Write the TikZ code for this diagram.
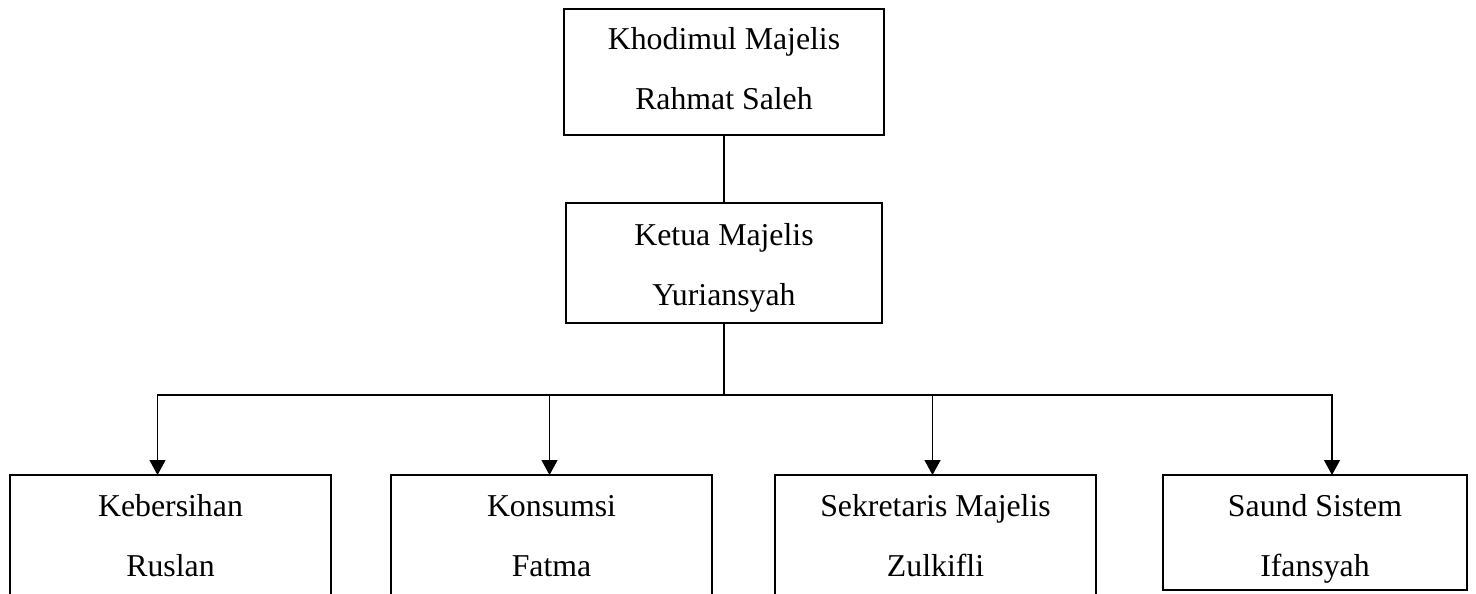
\documentclass[tikz,border=0pt]{standalone}
\usepackage{fontspec}
\setmainfont{Liberation Serif}
\usepackage{tikz}
\usetikzlibrary{arrows.meta,positioning}

\begin{document}
\begin{tikzpicture}[x=1pt, y=-1pt]
\tikzstyle{box}=[draw, line width=2.2pt, shape=rectangle, inner sep=0pt, outer sep=0pt, align=center, font=\fontsize{31.8}{60}\selectfont]
\tikzstyle{head}=[box, minimum width=320pt, text height=101pt, text depth=25pt]
\tikzstyle{unit}=[box, minimum width=321pt, text height=101pt, text depth=80pt]
\tikzstyle{link}=[line width=1.2pt]
\tikzstyle{arrow}=[link, -{Triangle[width=16pt,length=15pt]}]
\useasboundingbox (0,0) rectangle (1476,594);
\clip (0,0) rectangle (1476,594);

\node[head, anchor=north] (khodim) at (724,9) {Khodimul Majelis\\Rahmat Saleh};
\node[head, minimum width=316pt, text height=102pt, text depth=18pt] (ketua) [below=68pt of khodim]{Ketua Majelis\\Yuriansyah};

\node[unit, anchor=north west] (keb) at (10,475) {Kebersihan\\Ruslan};
\node[unit] (kon) [right=60pt of keb.north east, anchor=north west]{Konsumsi\\Fatma};
\node[unit] (sek) [right=63pt of kon.north east, anchor=north west]{Sekretaris Majelis\\Zulkifli};
\node[unit, minimum width=304pt, text depth=14pt] (sau) [right=67pt of sek.north east, anchor=north west]{Saund Sistem\\Ifansyah};
\coordinate (split) at (724,395);

\draw[link] (khodim) -- (ketua);
\draw[link] (ketua) -- (split);
\draw[arrow] (split) -| ([xshift=-13pt]keb.north);
\draw[arrow] (split) -| ([xshift=-2pt]kon.north);
\draw[arrow] (split) -| ([xshift=-3pt]sek.north);
\draw[arrow] (split) -| ([xshift=17pt]sau.north);

\end{tikzpicture}
\end{document}
